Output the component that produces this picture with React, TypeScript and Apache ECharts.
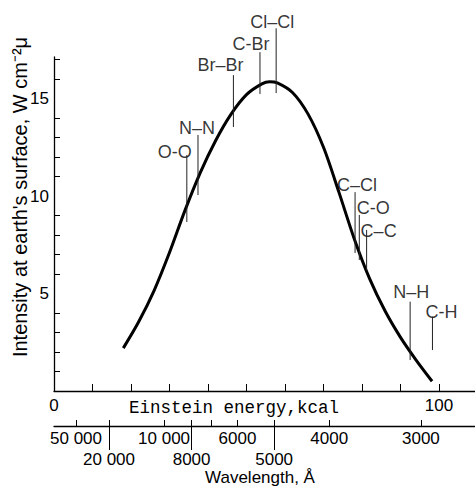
import React, { useEffect, useRef } from "react";
import * as echarts from "echarts";

// Solar spectrum curve: Einstein energy (kcal) vs intensity (W cm^-2 µ)
const energy = [18, 22, 26, 30, 34, 38, 42, 46, 50, 54, 56, 58, 62, 66, 70, 74, 78, 82, 86, 90, 94, 98.2];
const intensity = [2.2, 3.55, 5.15, 7.1, 9.25, 11.2, 12.85, 14.2, 15.2, 15.75, 15.86, 15.8, 15.3, 14.2, 12.5, 10.2, 7.8, 5.75, 4.1, 2.75, 1.6, 0.5];

// Bond dissociation energies (marker lines)
const bondNames = ["O-O", "N–N", "Br–Br", "C-Br", "Cl–Cl", "C–Cl", "C-O", "C–C", "N–H", "C-H"];
const bondEnergy = [34.5, 37.4, 46.6, 53.5, 57.7, 78.2, 79.3, 81.2, 92.5, 98.3];
const bondLow = [8.67, 10.05, 13.54, 15.23, 15.28, 7.08, 6.72, 6.2, 1.59, 2.1];
const bondHigh = [12.1, 13.13, 16.2, 17.38, 18.6, 10.2, 9.03, 8.26, 4.58, 3.81];

// Axis ticks / labels
const energyTicks = [0, 10, 20, 30, 40, 50, 60, 70, 80, 90, 100];
const energyLabels = [0, 100];
const intensityLabels = [5, 10, 15];
const intensityMinorTicks = [1, 2, 3, 4, 6, 7, 8, 9, 11, 12, 13, 14, 16, 17];
const wavelengthTopLabels = [50000, 10000, 6000, 4000, 3000];
const wavelengthBottomLabels = [20000, 8000, 5000];
const wavelengthShortTicks = [50000, 20000, 10000, 8000, 7000, 6000, 5000, 4000, 3000];

// layout (pixel offsets for bond labels)
const bondLabelOffsets = [[-12, -3], [-1, -7], [-13, -10], [-9, -8], [-4, -6], [2, -7], [14, -7], [12, 1], [1, -10], [9, -5]];

const KCAL_ANGSTROM = 285900;
const toE = (lambda: number) => KCAL_ANGSTROM / lambda;
const fmtLambda = (e: number) => {
  const l = Math.round(KCAL_ANGSTROM / e / 100) * 100;
  if (l >= 10000) {
    const s = String(l);
    return s.slice(0, s.length - 3) + " " + s.slice(s.length - 3);
  }
  return String(l);
};

const FONT = "'Liberation Sans', Arial, sans-serif";
const X_MAX = 109.35;
const Y_MAX = 17.13;

export default function App() {
  const ref = useRef<HTMLDivElement>(null);
  useEffect(() => {
    if (!ref.current) return;
    const chart = echarts.init(ref.current, null, { renderer: "svg" });
    const axisLine = { show: true, lineStyle: { color: "#000", width: 1.3 } };
    const bondSeries = bondNames.map((n, i) => ({
      type: "line",
      data: [[bondEnergy[i], bondLow[i]], [bondEnergy[i], bondHigh[i]]],
      symbol: "none",
      clip: false,
      silent: true,
      lineStyle: { color: "#222", width: 1 },
    }));
    chart.setOption({
      animation: false,
      backgroundColor: "#fff",
      grid: { left: 54, top: 57, width: 421, height: 334, containLabel: false },
      xAxis: [
        {
          type: "value",
          min: 0,
          max: X_MAX,
          position: "bottom",
          axisLine,
          splitLine: { show: false },
          axisTick: { show: true, inside: true, length: 7, customValues: energyTicks, lineStyle: { color: "#000" } },
          axisLabel: { show: true, customValues: energyLabels, margin: 6, color: "#000", fontSize: 17, fontFamily: FONT },
        },
        {
          type: "value",
          min: 0,
          max: X_MAX,
          position: "bottom",
          offset: 35,
          axisLine,
          splitLine: { show: false },
          axisTick: { show: true, inside: true, length: 6, customValues: wavelengthShortTicks.map(toE), lineStyle: { color: "#000" } },
          axisLabel: {
            show: true,
            customValues: wavelengthTopLabels.map(toE),
            formatter: (v: number) => fmtLambda(v),
            margin: 4,
            color: "#000",
            fontSize: 17,
            fontFamily: FONT,
          },
        },
        {
          type: "value",
          min: 0,
          max: X_MAX,
          position: "bottom",
          offset: 35,
          axisLine: { show: false },
          splitLine: { show: false },
          axisTick: { show: true, inside: false, length: 24, customValues: wavelengthBottomLabels.map(toE), lineStyle: { color: "#000" } },
          axisLabel: {
            show: true,
            customValues: wavelengthBottomLabels.map(toE),
            formatter: (v: number) => fmtLambda(v),
            margin: 25,
            color: "#000",
            fontSize: 17,
            fontFamily: FONT,
          },
        },
      ],
      yAxis: {
        type: "value",
        min: 0,
        max: Y_MAX,
        axisLine,
        splitLine: { show: false },
        axisTick: { show: true, inside: true, length: 6, customValues: intensityMinorTicks, lineStyle: { color: "#000" } },
        axisLabel: { show: true, customValues: intensityLabels, margin: 5, color: "#000", fontSize: 17, fontFamily: FONT },
      },
      series: [
        {
          type: "line",
          data: energy.map((e, i) => [e, intensity[i]]),
          smooth: 0.3,
          symbol: "none",
          clip: false,
          silent: true,
          lineStyle: { color: "#000", width: 3 },
        },
        ...bondSeries,
        {
          type: "scatter",
          symbolSize: 1,
          clip: false,
          silent: true,
          itemStyle: { color: "rgba(0,0,0,0)" },
          data: bondNames.map((n, i) => ({
            value: [bondEnergy[i], bondHigh[i]],
            name: n,
            label: {
              show: true,
              position: "inside",
              offset: bondLabelOffsets[i],
              formatter: n,
              color: "#000",
              fontSize: 18,
              fontFamily: FONT,
            },
          })),
        },
      ],
      graphic: [
        {
          type: "text",
          x: 20,
          y: 197,
          rotation: Math.PI / 2,
          style: {
            text: "Intensity at earth's surface, W cm⁻²μ",
            textAlign: "center",
            textVerticalAlign: "middle",
            fontSize: 20,
            fontFamily: FONT,
            fill: "#000",
          },
        },
        {
          type: "text",
          x: 234,
          y: 408,
          style: {
            text: "Einstein energy,kcal",
            textAlign: "center",
            textVerticalAlign: "middle",
            fontSize: 17.5,
            fontFamily: "'Liberation Mono', 'DejaVu Sans Mono', monospace",
            fill: "#000",
          },
        },
        {
          type: "text",
          x: 260,
          y: 477,
          style: {
            text: "Wavelength, Å",
            textAlign: "center",
            textVerticalAlign: "middle",
            fontSize: 17,
            fontFamily: FONT,
            fill: "#000",
          },
        },
      ],
    });
    return () => chart.dispose();
  }, []);
  return <div ref={ref} style={{ position: "fixed", left: 0, top: 0, width: 475, height: 494, background: "#fff" }} />;
}
